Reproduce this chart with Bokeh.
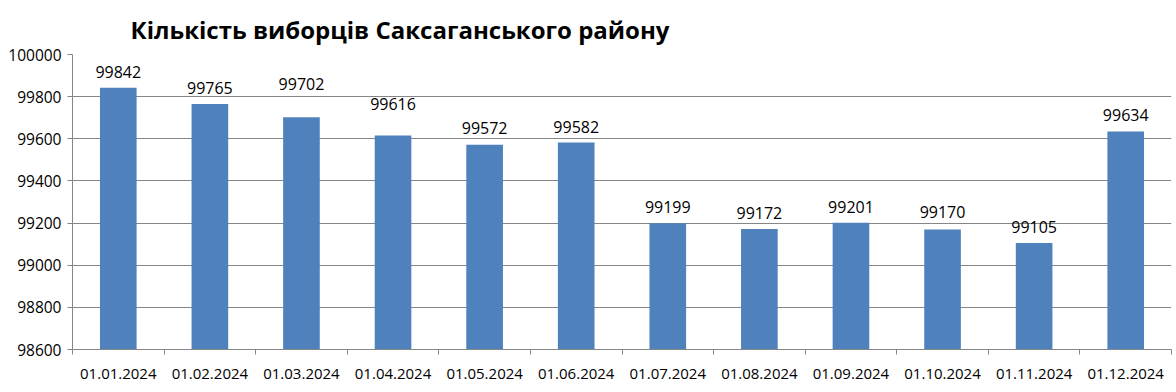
from bokeh.plotting import figure
from bokeh.models import ColumnDataSource, FixedTicker, Range1d, BasicTickFormatter
from bokeh.core.properties import value
from bokeh.embed import file_html
from bokeh.resources import INLINE

title_text = "Кількість виборців Саксаганського району"
dates = ["01.01.2024", "01.02.2024", "01.03.2024", "01.04.2024", "01.05.2024", "01.06.2024",
         "01.07.2024", "01.08.2024", "01.09.2024", "01.10.2024", "01.11.2024", "01.12.2024"]
voters = [99842, 99765, 99702, 99616, 99572, 99582, 99199, 99172, 99201, 99170, 99105, 99634]
y_ticks = [98600, 98800, 99000, 99200, 99400, 99600, 99800, 100000]

# label distance above bar top (px) – style only
label_gap = [16, 16, 33, 31, 17, 16, 16, 16, 16, 17, 16, 17]

xs = [i + 1 for i in range(len(dates))]
src = ColumnDataSource(dict(x=xs, top=voters, lab=[str(v) for v in voters],
                            off=[-g for g in label_gap]))

FONT = "Open Sans"
GRID = "#868686"

p = figure(width=1176, height=392, output_backend="svg", toolbar_location=None,
           x_range=Range1d(0.5, len(dates) + 0.5), y_range=Range1d(y_ticks[0], y_ticks[-1]),
           min_border_left=72, min_border_right=5, min_border_top=54, min_border_bottom=43)
p.outline_line_color = None
p.background_fill_color = "white"
p.border_fill_color = "white"

p.title.text = title_text
p.title.text_font = FONT
p.title.text_font_size = "24px"
p.title.text_font_style = "bold"
p.title.text_color = "black"
p.title.align = "left"
p.title.vertical_align = "top"
p.title.offset = 58
p.title.standoff = 14

p.vbar(x="x", top="top", bottom=y_ticks[0], width=0.40, source=src,
       fill_color="#4F81BD", line_color=None)
p.text(x="x", y="top", text="lab", y_offset="off", source=src,
       text_font=value(FONT), text_font_size="16px", text_align="center",
       text_baseline="middle", text_color="black")

# y axis
p.yaxis.ticker = FixedTicker(ticks=y_ticks)
p.yaxis.formatter = BasicTickFormatter(use_scientific=False)
p.yaxis.axis_line_color = GRID
p.yaxis.major_tick_line_color = GRID
p.yaxis.major_tick_out = 5
p.yaxis.major_tick_in = 0
p.yaxis.minor_tick_line_color = None
p.yaxis.major_label_text_font = FONT
p.yaxis.major_label_text_font_size = "15.5px"
p.yaxis.major_label_text_color = "black"
p.yaxis.major_label_standoff = 6

# x axis: labels at centers, ticks at boundaries
p.xaxis.ticker = FixedTicker(ticks=xs, minor_ticks=[i + 0.5 for i in range(len(dates) + 1)])
p.xaxis.major_label_overrides = {x: d for x, d in zip(xs, dates)}
p.xaxis.axis_line_color = GRID
p.xaxis.major_tick_line_color = None
p.xaxis.major_tick_out = 5
p.xaxis.minor_tick_line_color = GRID
p.xaxis.minor_tick_out = 5
p.xaxis.minor_tick_in = 0
p.xaxis.major_label_text_font = FONT
p.xaxis.major_label_text_font_size = "15px"
p.xaxis.major_label_text_color = "black"
p.xaxis.major_label_standoff = 14

p.xgrid.grid_line_color = None
p.ygrid.ticker = FixedTicker(ticks=y_ticks)
p.ygrid.grid_line_color = GRID

open("out.html", "w").write(file_html(p, INLINE))
